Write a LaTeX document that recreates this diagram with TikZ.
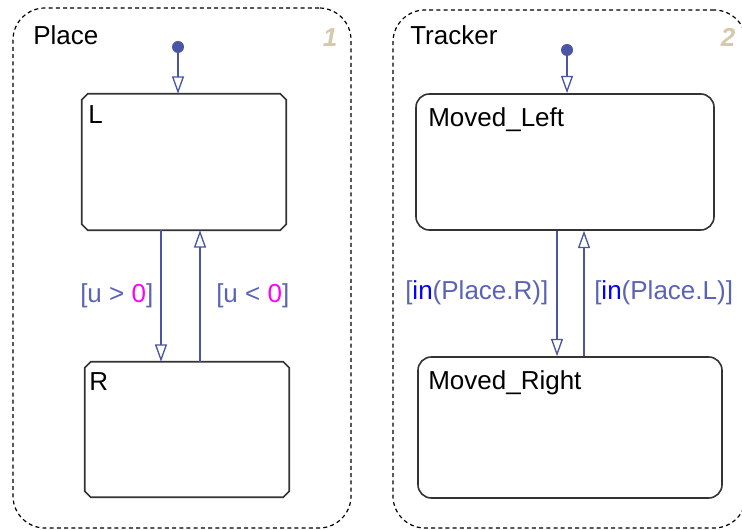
\documentclass[tikz,border=0pt]{standalone}
\usepackage{fontspec}
\setmainfont{Liberation Sans}
\usetikzlibrary{arrows.meta}
\definecolor{trans}{HTML}{4B55A5}
\definecolor{lbl}{HTML}{5B63B5}
\definecolor{mag}{HTML}{FF00FF}
\definecolor{kw}{HTML}{0000FF}
\definecolor{num}{HTML}{D5C8AC}
\definecolor{edge}{HTML}{333333}
\tikzset{
  txt/.style={inner sep=0pt,anchor=base west,font=\fontsize{19.5}{23}\selectfont},
  super/.style={draw=black,dashed,dash pattern=on 3pt off 2.4pt,line width=0.9pt,rounded corners=24pt,inner sep=0pt},
  stbox/.style={rectangle,draw=none,inner sep=0pt},
  stline/.style={draw=edge,line width=1.2pt},
  roundstate/.style={rectangle,rounded corners=10pt,draw=edge,line width=1.2pt,inner sep=0pt},
  tr/.style={draw=trans,line width=1pt,-{Triangle[open,length=13pt,width=9pt,fill=white]}},
  dot/.style={circle,fill=trans,inner sep=0pt,minimum size=9pt},
  num/.style={inner sep=0pt,anchor=base,text=num,font=\fontsize{19.5}{23}\selectfont\bfseries\itshape}
}
\begin{document}
\begin{tikzpicture}[x=0.75pt,y=-0.75pt]
\useasboundingbox (0,0) rectangle (742,530);
% superstates
\node[super,minimum width=253.5pt,minimum height=390pt] (place) at (182,268) {};
\node[super,minimum width=264.75pt,minimum height=388.5pt] (tracker) at (569.5,269) {};
\node[txt] (placelbl) at (33,45) {Place};
\node[txt] (trackerlbl) at (410,45) {Tracker};
\node[num] (n1) at (330,47) {1};
\node[num] (n2) at (728,47) {2};
% states
\node[stbox,minimum width=153pt,minimum height=102pt] (L) at (184,162) {};
\node[stbox,minimum width=153pt,minimum height=101.25pt] (R) at (187,429.5) {};
\foreach \s in {L,R}{
  \draw[stline] ([xshift=4.5pt]\s.north west) -- ([xshift=-4.5pt]\s.north east)
    -- ([yshift=-4.5pt]\s.north east) -- ([yshift=4.5pt]\s.south east)
    -- ([xshift=-4.5pt]\s.south east) -- ([xshift=4.5pt]\s.south west)
    -- ([yshift=4.5pt]\s.south west) -- ([yshift=-4.5pt]\s.north west) -- cycle;
}
\node[roundstate,minimum width=223.5pt,minimum height=102pt] (ML) at (565,162) {};
\node[roundstate,minimum width=228pt,minimum height=105.75pt] (MR) at (570,427.5) {};
\node[txt] (Llbl) at (88,124) {L};
\node[txt] (Rlbl) at (89,391) {R};
\node[txt] (MLlbl) at (428,127) {Moved\_Left};
\node[txt] (MRlbl) at (428,390) {Moved\_Right};
% default transitions
\node[dot] (d1) at (178,47) {};
\node[dot] (d2) at (567,50) {};
\draw[tr] (d1) -- (d1 |- L.north);
\draw[tr] (d2) -- (d2 |- ML.north);
% transitions
\coordinate (x1) at (161,0);
\coordinate (x2) at (200,0);
\coordinate (x3) at (557,0);
\coordinate (x4) at (584,0);
\draw[tr] (x1 |- L.south) -- (x1 |- R.north);
\draw[tr] (x2 |- R.north) -- (x2 |- L.south);
\draw[tr] (x3 |- ML.south) -- (x3 |- MR.north);
\draw[tr] (x4 |- MR.north) -- (x4 |- ML.south);
% labels
\node[txt,text=lbl] (g1) at (80,303) {[u > \textcolor{mag}{0}]};
\node[txt,text=lbl] (g2) at (216,303) {[u < \textcolor{mag}{0}]};
\node[txt,text=lbl] (g3) at (405,300) {[\textcolor{kw}{in}(Place.R)]};
\node[txt,text=lbl] (g4) at (594,300) {[\textcolor{kw}{in}(Place.L)]};
\end{tikzpicture}
\end{document}
